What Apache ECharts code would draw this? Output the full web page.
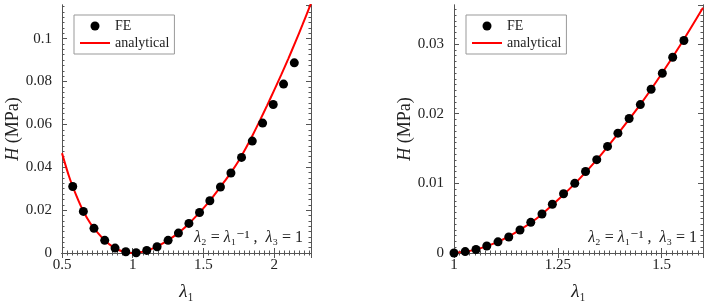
<!DOCTYPE html>
<html><head><meta charset="utf-8">
<script src="https://cdn.jsdelivr.net/npm/echarts@6/dist/echarts.min.js"></script>
<style>html,body{margin:0;padding:0;background:#fff}#c{width:706px;height:301px}</style>
</head><body><div id="c"></div>
<script>
// ---- data ----
const leftFEx = [0.576,0.651,0.726,0.802,0.875,0.951,1.024,1.099,1.172,1.25,1.323,1.397,1.472,1.545,1.62,1.694,1.769,1.845,1.918,1.993,2.066,2.142];
const leftFEy = [0.0310,0.0194,0.0115,0.0059,0.0023,0.0006,0.0001,0.0012,0.0029,0.0059,0.0093,0.0138,0.0189,0.0244,0.0308,0.0373,0.0446,0.0522,0.0606,0.0693,0.0788,0.0887];
const leftCurveX = [0.5,0.55,0.6,0.65,0.7,0.75,0.8,0.85,0.9,0.95,1.0,1.05,1.1,1.15,1.2,1.25,1.3,1.35,1.4,1.45,1.5,1.55,1.6,1.65,1.7,1.75,1.8,1.85,1.9,1.95,2.0,2.05,2.1,2.15,2.2,2.25,2.26];
const leftCurveY = [0.0466,0.0357,0.0270,0.0196,0.0139,0.0096,0.0061,0.0033,0.0014,0.0004,0.0000,0.0003,0.0011,0.0024,0.0040,0.0060,0.0082,0.0108,0.0139,0.0173,0.0209,0.0248,0.0291,0.0335,0.0381,0.0432,0.0490,0.0553,0.0620,0.0689,0.0760,0.0832,0.0907,0.0985,0.1065,0.1148,0.1165];
const rightFEx = [1.0,1.027,1.053,1.079,1.106,1.132,1.159,1.185,1.212,1.237,1.264,1.291,1.317,1.344,1.370,1.395,1.422,1.449,1.475,1.502,1.527,1.554];
const rightFEy = [0,0.0002,0.0005,0.0010,0.0016,0.0023,0.0033,0.0044,0.0056,0.0070,0.0085,0.0100,0.0117,0.0134,0.0153,0.0172,0.0193,0.0213,0.0235,0.0258,0.0281,0.0305];
const rightCurveX = [1.0,1.05,1.1,1.15,1.2,1.25,1.3,1.35,1.4,1.45,1.5,1.55,1.6];
const rightCurveY = [0,0.00045,0.00145,0.0030,0.0050,0.0076,0.0105,0.0138,0.0175,0.0214,0.0257,0.0303,0.0352];
// axis ranges / tick labels
const leftXRange = [0.5, 2.26], leftXStep = 0.5;
const leftYRange = [0, 0.1157], leftYStep = 0.02;
const rightXRange = [1, 1.6], rightXStep = 0.25;
const rightYRange = [0, 0.0356], rightYStep = 0.01;
const legendNames = ['FE', 'analytical'];

// ---- style ----
const FONT = 'Liberation Serif, DejaVu Serif, serif';
const FRAME = '#555';
const TXT = '#222';

function minorTicks(min, max, step){
  const a = [];
  for (let i = 0; ; i++) { const v = +(min + i*step).toFixed(7); if (v > max + 1e-9) break; a.push(v); }
  return a;
}
const axisLineS = {show:true, lineStyle:{color:FRAME, width:1}};
function makeAxes(dim, gi, range, step, nMinor, name, nameGap){
  const pos = dim === 'x' ? ['bottom','top'] : ['left','right'];
  const base = {type:'value', gridIndex:gi, min:range[0], max:range[1], splitLine:{show:false}, axisLine:axisLineS};
  const minor = minorTicks(range[0], range[1], step/nMinor);
  const out = [];
  pos.forEach((p, k) => {
    out.push(Object.assign({}, base, {
      position:p, interval:step,
      axisTick:{show:true, inside:true, length:5, lineStyle:{color:FRAME}},
      axisLabel: k === 0 ? {show:true, showMaxLabel:false, color:TXT, fontFamily:FONT, fontSize:15, margin: dim==='x'?5:10} : {show:false},
      name: k === 0 ? name : '', nameLocation:'middle', nameGap:nameGap,
      nameTextStyle:{color:TXT, fontFamily:FONT, fontSize:18, lineHeight:18,
        rich:{i:{fontStyle:'italic', fontFamily:FONT, fontSize:18, color:TXT, lineHeight:18},
              l:{fontStyle:'italic', fontFamily:FONT, fontSize:19, color:TXT, lineHeight:18}}}
    }));
    out.push(Object.assign({}, base, {
      position:p,
      axisTick:{show:true, inside:true, length:2.5, customValues:minor, lineStyle:{color:FRAME}},
      axisLabel:{show:false}
    }));
  });
  return out;
}
const xName = '{l|λ}₁';
const yName = '{i|H} (MPa)';
const xAxis = [].concat(
  makeAxes('x', 0, leftXRange, leftXStep, 14, xName, 30),
  makeAxes('x', 1, rightXRange, rightXStep, 20, xName, 30));
const yAxis = [].concat(
  makeAxes('y', 0, leftYRange, leftYStep, 8, yName, 38),
  makeAxes('y', 1, rightYRange, rightYStep, 12, yName, 38));

function zip(a, b){ return a.map((v, i) => [v, b[i]]); }
const lineS = {color:'#ff0000', width:2};
const series = [
  {name:'analytical', type:'line', xAxisIndex:0, yAxisIndex:0, data:zip(leftCurveX, leftCurveY), smooth:0.3, symbol:'none', lineStyle:lineS, itemStyle:{color:'#ff0000'}, z:2},
  {name:'FE', type:'scatter', xAxisIndex:0, yAxisIndex:0, data:zip(leftFEx, leftFEy), symbol:'circle', symbolSize:9, itemStyle:{color:'#000', opacity:1}, z:3},
  {name:'analytical', type:'line', xAxisIndex:4, yAxisIndex:4, data:zip(rightCurveX, rightCurveY), smooth:0.3, symbol:'none', lineStyle:lineS, itemStyle:{color:'#ff0000'}, z:2},
  {name:'FE', type:'scatter', xAxisIndex:4, yAxisIndex:4, data:zip(rightFEx, rightFEy), symbol:'circle', symbolSize:9, itemStyle:{color:'#000', opacity:1}, z:3}
];
const lineIcon = 'path://M0,0L0.01,0L0.01,0.01L0,0.01Z M0,3.6L30,3.6L30,5.4L0,5.4Z M29.99,8.99L30,8.99L30,9L29.99,9Z';
const legendBase = {orient:'vertical', top:15,
  data:[{name:legendNames[0], icon:'circle'}, {name:legendNames[1], icon:lineIcon}],
  itemWidth:30, itemHeight:9, itemGap:3,
  padding:[4,5,4,6], borderColor:'#999', borderWidth:1, selectedMode:false,
  itemStyle:{opacity:1},
  textStyle:{fontFamily:FONT, fontSize:14, color:TXT}};
const annRich = {
  l:{fontStyle:'italic', fontFamily:FONT, fontSize:16, color:TXT}
};
const annText = '{l|λ}₂ = {l|λ}₁⁻¹ ,  {l|λ}₃ = 1';
const annBase = {top:230, padding:0, z:20,
  textStyle:{rich:annRich, fontFamily:FONT, fontSize:16, fontWeight:'normal', color:TXT}};
const option = {
  animation:false,
  backgroundColor:'#fff',
  grid:[{left:62, right:395, top:5, bottom:48, containLabel:false, outerBoundsMode:'none'},
        {left:454, right:3, top:5, bottom:48, containLabel:false, outerBoundsMode:'none'}],
  xAxis, yAxis, series,
  legend:[Object.assign({left:74}, legendBase), Object.assign({left:466}, legendBase)],
  title:[
    Object.assign({text:annText, right:706-303}, annBase),
    Object.assign({text:annText, right:9}, annBase)
  ]
};
const chart = echarts.init(document.getElementById('c'), null, {renderer:'canvas'});
chart.setOption(option);
</script></body></html>
